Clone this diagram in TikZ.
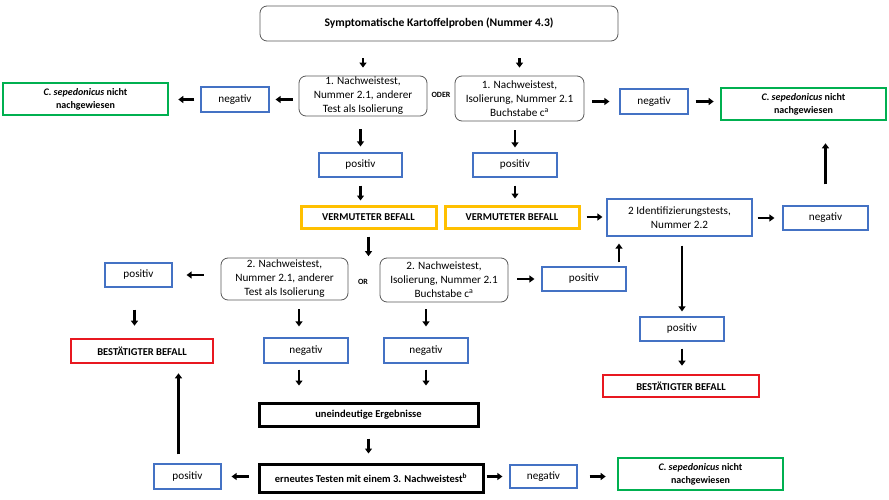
\documentclass[tikz,border=0pt]{standalone}
\usepackage{fontspec}
\setmainfont{Carlito}
\usepackage{xcolor}
\usepackage{tikz}
\usetikzlibrary{arrows.meta}
\definecolor{boxblue}{RGB}{68,114,196}
\definecolor{boxgreen}{RGB}{0,176,80}
\definecolor{boxgold}{RGB}{255,192,0}
\definecolor{boxred}{RGB}{232,24,32}
\newcommand{\regfont}{\fontsize{11.2}{14}\selectfont}
\newcommand{\bldfont}{\fontsize{10.5}{13}\selectfont\bfseries}

\begin{document}
\begin{tikzpicture}[x=1pt,y=-1pt,
  sz/.style 2 args={minimum width=#1,minimum height=#2,inner sep=0pt},
  testbox/.style={draw=black!65,line width=0.8pt,rounded corners=7pt,align=center,font=\regfont},
  resbox/.style={draw=boxblue,line width=1.2pt,font=\regfont},
  notbox/.style={draw=boxgreen,line width=2.6pt,align=center,font=\fontsize{10}{13}\selectfont\bfseries},
  susbox/.style={draw=boxgold,line width=3pt,font=\bldfont},
  confbox/.style={draw=boxred,line width=2.6pt,font=\bldfont},
  stepbox/.style={draw=black,line width=3pt,font=\bldfont},
  orlabel/.style={inner sep=0pt,font=\fontsize{8}{9}\selectfont\bfseries},
  arr/.style 2 args={-{Triangle[length=5pt,width=7pt]},line width=2.2pt,shorten <=#1,shorten >=#2}]
\useasboundingbox (0,0) rectangle (889,500);

\node[testbox,sz={358}{35}] (top) at (439,23.5) {\fontsize{11.6}{14}\selectfont\bfseries Symptomatische Kartoffelproben (Nummer 4.3)};
\node[testbox,sz={128}{40}] (t1l) at (363,96) {1. Nachweistest,\\Nummer 2.1, anderer\\Test als Isolierung};
\node[testbox,sz={129}{45}] (t1r) at (519.5,98.5) {1. Nachweistest,\\Isolierung, Nummer 2.1\\Buchstabe c\textsuperscript{a}};
\node[orlabel] (oder) at (441,95) {ODER};
\node[resbox,sz={68}{25}] (negl) at (235,99.5) {negativ};
\node[notbox,sz={165}{32}] (notl) at (85.5,99) {\textit{C. sepedonicus} nicht\\nachgewiesen};
\node[resbox,sz={68}{25}] (negr) at (654,101.5) {negativ};
\node[notbox,sz={165}{32}] (notr) at (803.5,104) {\textit{C. sepedonicus} nicht\\nachgewiesen};
\node[resbox,sz={83}{24}] (posl) at (360.5,165) {positiv};
\node[resbox,sz={84}{24}] (posr) at (515,165) {positiv};
\node[susbox,sz={135}{22}] (susl) at (368.5,217) {VERMUTETER BEFALL};
\node[susbox,sz={134}{22}] (susr) at (512,217) {VERMUTETER BEFALL};
\node[resbox,sz={145}{37},align=center] (ident) at (679.5,217.5) {2 Identifizierungstests,\\Nummer 2.2};
\node[resbox,sz={85}{24}] (negid) at (825.5,218) {negativ};

\node[testbox,sz={127}{42}] (t2l) at (284.5,279) {2. Nachweistest,\\Nummer 2.1, anderer\\Test als Isolierung};
\node[orlabel] (or) at (363,282) {OR};
\node[testbox,sz={128}{44}] (t2r) at (444,280) {2. Nachweistest,\\Isolierung, Nummer 2.1\\Buchstabe c\textsuperscript{a}};
\node[resbox,sz={67}{24}] (pos2l) at (138.5,275) {positiv};
\node[confbox,sz={142}{24}] (confl) at (142,351) {BESTÄTIGTER BEFALL};
\node[resbox,sz={84}{25}] (neg2l) at (306,350.5) {negativ};
\node[resbox,sz={84}{25}] (neg2r) at (426,350.5) {negativ};
\node[resbox,sz={84}{24}] (pos2r) at (584,279) {positiv};
\node[resbox,sz={84}{24}] (posid) at (682,329) {positiv};
\node[confbox,sz={156}{22}] (confr) at (681,386) {BESTÄTIGTER BEFALL};

\node[stepbox,sz={219}{23}] (unclear) at (368.5,414.5) {uneindeutige Ergebnisse};
\node[stepbox,sz={224}{28}] (retest) at (371,478) {erneutes Testen mit einem 3. Nachweistest\textsuperscript{b}};
\node[resbox,sz={67}{25}] (pos3) at (187.5,476.5) {positiv};
\node[resbox,sz={67}{23}] (neg3) at (543.5,476.5) {negativ};
\node[notbox,sz={165}{32}] (notb) at (700.5,474) {\textit{C. sepedonicus} nicht\\nachgewiesen};

\draw[arr={17}{8}] (top.south -| t1l.north) -- (t1l.north);
\draw[arr={17}{8}] (top.south -| t1r.north) -- (t1r.north);
\draw[arr={6}{6}] (t1l.west |- negl.east) -- (negl.east);
\draw[arr={6}{9}] (negl.west) -- (negl.west -| notl.east);
\draw[arr={8}{10}] (t1r.east |- negr.west) -- (negr.west);
\draw[arr={7}{6}] (negr.east) -- (negr.east -| notr.west);
\draw[arr={13}{6}] (t1l.south -| posl.north) -- (posl.north);
\draw[arr={9}{5}] (t1r.south -| posr.north) -- (posr.north);
\draw[arr={8}{4}] (posl.south) -- (posl.south |- susl.north);
\draw[arr={8}{6}] (posr.south) -- (posr.south |- susr.north);
\draw[arr={6}{4}] (susr.east) -- (susr.east -| ident.west);
\draw[arr={5}{8}] (ident.east |- negid.west) -- (negid.west);
\draw[arr={21}{22}] (negid.north) -- (negid.north |- notr.south);
\draw[arr={7}{23}] (susl.south) -- (susl.south |- or.north);
\draw[arr={17}{14}] (t2l.west |- pos2l.east) -- (pos2l.east);
\draw[arr={22}{12}] ([xshift=-4]pos2l.south) -- ([xshift=-4]pos2l.south |- confl.north);
\draw[arr={9}{11}] ([xshift=14.5]t2l.south) -- ([xshift=14.5]t2l.south |- neg2l.north);
\draw[arr={7}{11}] (t2r.south -| neg2r.north) -- (neg2r.north);
\draw[arr={6}{16}] ([xshift=-7]neg2l.south) -- ([xshift=-7]neg2l.south |- unclear.north);
\draw[arr={6}{16}] (neg2r.south) -- (neg2r.south |- unclear.north);
\draw[arr={11}{9}] (unclear.south) -- (unclear.south |- retest.north);
\draw[arr={9}{10}] (retest.west |- pos3.east) -- (pos3.east);
\draw[arr={9}{9}] ([xshift=-9]pos3.north) -- ([xshift=-9]pos3.north |- confl.south);
\draw[arr={2}{7}] (retest.east |- neg3.west) -- (neg3.west);
\draw[arr={12}{11}] (neg3.east) -- (neg3.east -| notb.west);
\draw[arr={9}{7}] (t2r.east |- pos2r.west) -- (pos2r.west);
\draw[arr={4}{7}] ([xshift=35]pos2r.north) -- ([xshift=35]pos2r.north |- ident.south);
\draw[arr={9}{5}] (ident.south -| posid.north) -- (posid.north);
\draw[arr={7}{8}] (posid.south) -- (posid.south |- confr.north);
\end{tikzpicture}
\end{document}
